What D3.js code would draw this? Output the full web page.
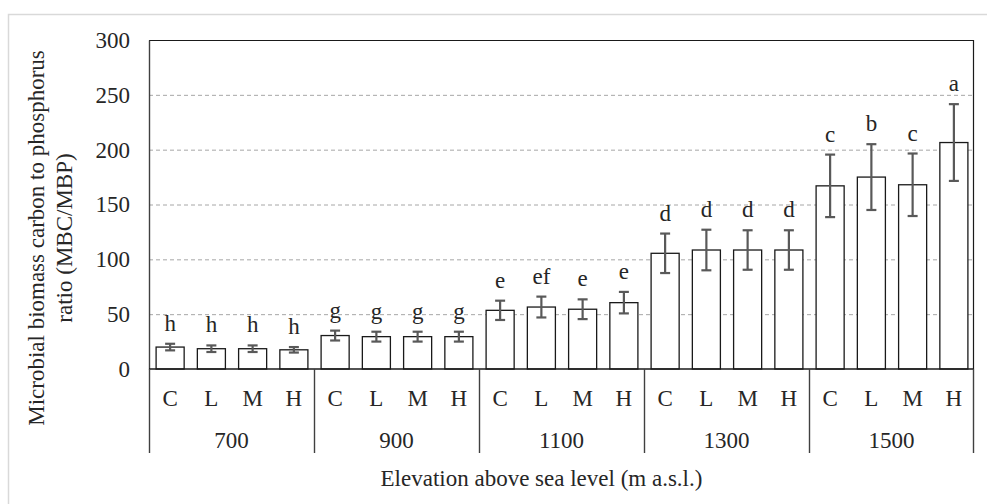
<!DOCTYPE html>
<html>
<meta charset="utf-8">
<style>
  body { margin: 0; background: #fff; }
  text { font-family: "Liberation Serif", "Times New Roman", serif; fill: #262626; }
  .grid line { stroke: #a6a6a6; stroke-dasharray: 4 3; }
  .bar { fill: #fff; stroke: #1a1a1a; stroke-width: 1.3; }
  .err { stroke: #595959; stroke-width: 2.2; fill: none; }
</style>
<body>
<script src="https://d3js.org/d3.v7.min.js"></script>
<script>
  let width = 987,
    height = 504;

  // data
  let elevations = ["700", "900", "1100", "1300", "1500"];
  let treatments = ["C", "L", "M", "H"];
  let means = [
    [20, 18.5, 18.5, 17.5],
    [30.5, 29.5, 29.5, 29.5],
    [53.5, 56.5, 54.5, 60.5],
    [105.5, 108.5, 108.5, 108.5],
    [167, 175, 168, 206.5]
  ];
  let errors = [
    [3, 3, 3, 2.5],
    [4.5, 4.5, 4.5, 4.5],
    [8.8, 9.5, 9, 9.8],
    [18, 18.5, 18, 18],
    [28.5, 30, 28.5, 35]
  ];
  let letters = [
    ["h", "h", "h", "h"],
    ["g", "g", "g", "g"],
    ["e", "ef", "e", "e"],
    ["d", "d", "d", "d"],
    ["c", "b", "c", "a"]
  ];
  let yTicks = [0, 50, 100, 150, 200, 250, 300];

  let margin = { left: 149, right: 13, top: 40, bottom: 135 };
  let plotW = width - margin.left - margin.right,
    plotH = height - margin.top - margin.bottom;
  let fs = 23;

  let svg = d3.select("body").append("svg")
    .attr("width", width)
    .attr("height", height);

  // outer light frame
  svg.append("rect")
    .attr("x", 8.5).attr("y", 14.5)
    .attr("width", width).attr("height", height)
    .attr("fill", "none").attr("stroke", "#d9d9d9").attr("stroke-width", 1.5);

  let g = svg.append("g").attr("transform", `translate(${margin.left},${margin.top})`);

  let x0 = d3.scaleBand().domain(elevations).range([0, plotW]);
  let x1 = d3.scaleBand().domain(treatments).range([0, x0.bandwidth()])
    .paddingInner(0.32).paddingOuter(0.16);
  let y = d3.scaleLinear().domain([0, 300]).range([plotH, 0]);

  // dashed grid
  g.append("g").attr("class", "grid")
    .selectAll("line")
    .data(yTicks.filter(d => d > 0 && d < 300))
    .join("line")
    .attr("x1", 0).attr("x2", plotW)
    .attr("y1", d => y(d) + 0.5).attr("y2", d => y(d) + 0.5);

  // plot border top/right
  g.append("path")
    .attr("d", `M0,0.5H${plotW - 0.5}V${plotH}`)
    .attr("fill", "none").attr("stroke", "#1a1a1a").attr("stroke-width", 1.2);

  // y axis
  let yAxis = g.append("g")
    .attr("font-family", "Liberation Serif")
    .call(d3.axisLeft(y).tickValues(yTicks).tickSize(0).tickPadding(19));
  yAxis.select(".domain").attr("stroke", "#404040").attr("stroke-width", 1.4);
  yAxis.selectAll("text").attr("font-size", fs).attr("fill", "#262626")
    .attr("font-family", "Liberation Serif");

  // bars
  let rows = [];
  elevations.forEach((e, i) => treatments.forEach((t, j) => {
    rows.push({ e, t, m: means[i][j], s: errors[i][j], l: letters[i][j] });
  }));

  let bx = d => x0(d.e) + x1(d.t);
  let cx = d => bx(d) + x1.bandwidth() / 2 + 0.5;

  g.selectAll(".bar")
    .data(rows)
    .join("rect")
    .attr("class", "bar")
    .attr("x", d => bx(d) + 0.5)
    .attr("width", x1.bandwidth())
    .attr("y", d => y(d.m))
    .attr("height", d => plotH - y(d.m));

  // error bars
  let cap = 5;
  let eb = g.selectAll(".errg").data(rows).join("g").attr("class", "err");
  eb.append("line")
    .attr("x1", cx).attr("x2", cx)
    .attr("y1", d => y(d.m + d.s)).attr("y2", d => y(d.m - d.s));
  eb.append("line")
    .attr("x1", d => cx(d) - cap).attr("x2", d => cx(d) + cap)
    .attr("y1", d => y(d.m + d.s)).attr("y2", d => y(d.m + d.s));
  eb.append("line")
    .attr("x1", d => cx(d) - cap).attr("x2", d => cx(d) + cap)
    .attr("y1", d => y(d.m - d.s)).attr("y2", d => y(d.m - d.s));

  // significance letters
  g.selectAll(".letter")
    .data(rows)
    .join("text")
    .attr("class", "letter")
    .attr("x", cx)
    .attr("y", d => y(d.m + d.s) - 13)
    .attr("text-anchor", "middle")
    .attr("font-size", fs)
    .text(d => d.l);

  // baseline
  g.append("line")
    .attr("x1", 0).attr("x2", plotW)
    .attr("y1", plotH).attr("y2", plotH)
    .attr("stroke", "#1a1a1a").attr("stroke-width", 1.3);

  // group separators
  let seps = elevations.map(e => x0(e)).concat([plotW]);
  g.selectAll(".sep")
    .data(seps)
    .join("line")
    .attr("class", "sep")
    .attr("x1", d => Math.min(d + 0.5, plotW - 0.5)).attr("x2", d => Math.min(d + 0.5, plotW - 0.5))
    .attr("y1", plotH).attr("y2", plotH + 84)
    .attr("stroke", "#404040").attr("stroke-width", 1.4);

  // treatment labels
  g.selectAll(".tlab")
    .data(rows)
    .join("text")
    .attr("class", "tlab")
    .attr("x", cx)
    .attr("y", plotH + 37)
    .attr("text-anchor", "middle")
    .attr("font-size", fs)
    .text(d => d.t);

  // elevation labels
  g.selectAll(".glab")
    .data(elevations)
    .join("text")
    .attr("class", "glab")
    .attr("x", d => x0(d) + x0.bandwidth() / 2)
    .attr("y", plotH + 79)
    .attr("text-anchor", "middle")
    .attr("font-size", fs)
    .text(d => d);

  // axis titles
  svg.append("text")
    .attr("x", margin.left + plotW / 2 - 20)
    .attr("y", 486)
    .attr("text-anchor", "middle")
    .attr("font-size", fs)
    .text("Elevation above sea level (m a.s.l.)");

  let yt = svg.append("text")
    .attr("transform", "translate(0,238) rotate(-90)")
    .attr("text-anchor", "middle")
    .attr("font-size", fs);
  yt.append("tspan").attr("x", 0).attr("y", 44).text("Microbial biomass carbon to phosphorus");
  yt.append("tspan").attr("x", 0).attr("y", 72).text("ratio (MBC/MBP)");
</script>
</body>
</html>
